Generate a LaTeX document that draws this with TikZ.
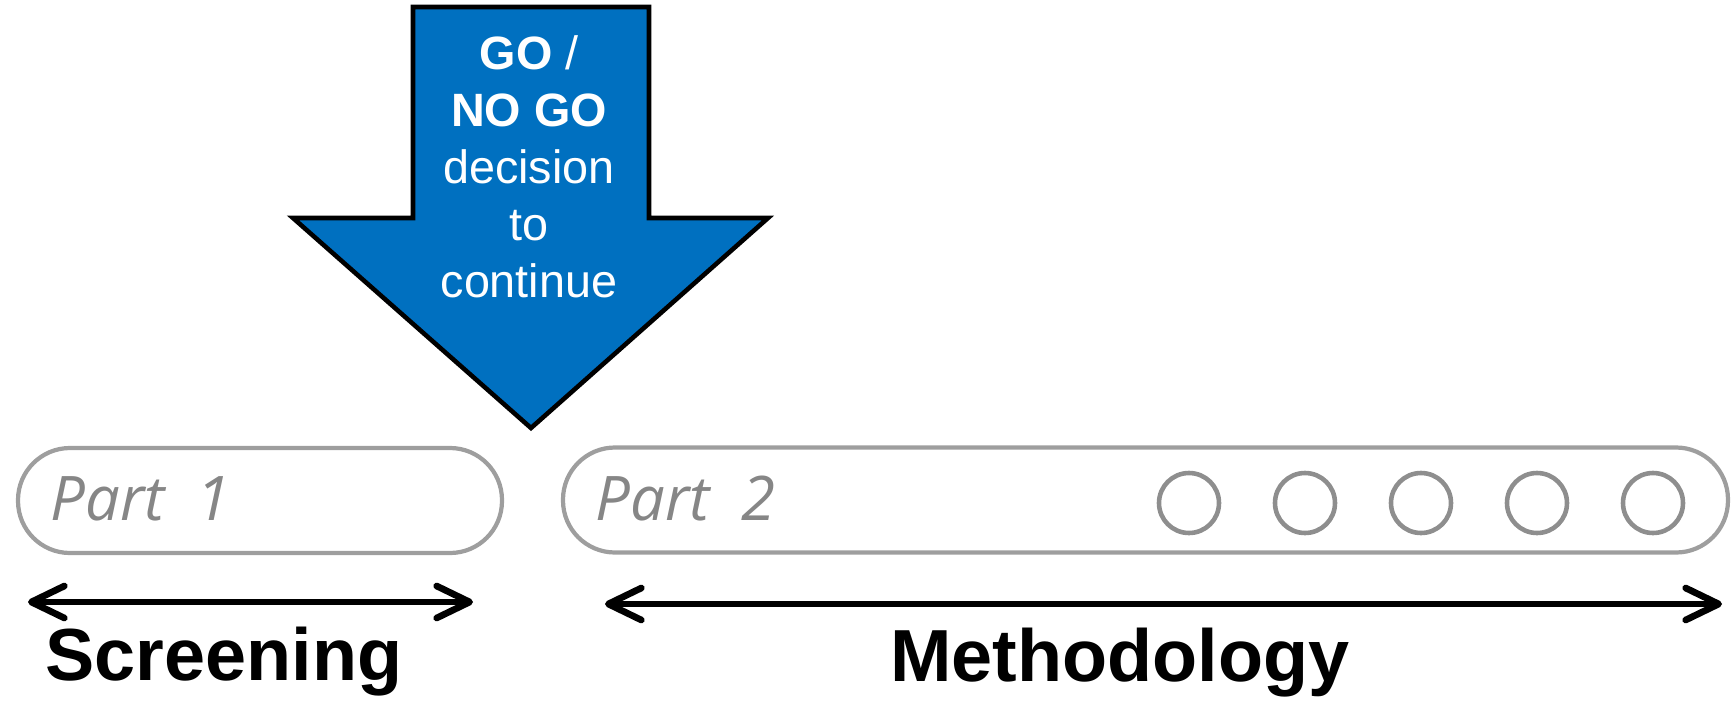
\documentclass[tikz,border=0pt]{standalone}
\usepackage{fontspec}
\setmainfont{Liberation Sans}
\newfontfamily\partfont{Open Sans}
\usetikzlibrary{arrows.meta}
\tikzset{
  part-box/.style={
    draw=partgray,
    line width=1.2pt,
    rounded corners=0.52cm,
    inner sep=0pt
  },
  part-label/.style={
    text=partgray!85!black,
    font=\partfont\itshape\fontsize{17.5}{20}\selectfont,
    inner sep=0pt
  },
  step-dot/.style={circle, draw=partgray!90!black, line width=1.3pt, minimum size=0.6cm, inner sep=0pt},
  span/.style={
    line width=1.7pt,
    {Straight Barb[length=3.3mm, width=3.2mm, line width=1.9pt, round]}-{Straight Barb[length=3.3mm, width=3.2mm, line width=1.9pt, round]}
  },
  phase/.style={font=\bfseries\fontsize{21}{24}\selectfont, inner sep=0pt},
  decision/.style={
    fill=goblue,
    draw=black,
    line width=1.3pt,
    line join=miter
  }
}
\definecolor{goblue}{RGB}{0,112,192}
\definecolor{partgray}{RGB}{158,158,158}

\begin{document}
\begin{tikzpicture}
  \useasboundingbox (0,0) rectangle (17.31,-7.01);

  % go / no go arrow
  \draw[decision] (4.13,-0.07) -- (6.49,-0.07) -- (6.49,-2.18) -- (7.68,-2.18)
    -- (5.31,-4.28) -- (2.93,-2.18) -- (4.13,-2.18) -- cycle;
  \node[text=white, align=center, inner sep=0pt,
        font=\fontsize{13.3}{16.2}\selectfont] (decide) at (5.29,-1.67)
    {\textbf{GO} /\\ \textbf{NO GO}\\ decision\\ to\\ continue};

  % the two parts
  \node[part-box, minimum width=4.84cm, minimum height=1.05cm] (part1) at (2.60,-5.005) {};
  \node[part-label, anchor=base west] (part1-text) at (0.50,-5.20) {Part\ \ 1};

  \node[part-box, minimum width=11.65cm, minimum height=1.05cm] (part2) at (11.455,-5.00) {};
  \node[part-label, anchor=base west] (part2-text) at (5.95,-5.20) {Part\ \ 2};

  \foreach \i in {0,...,4} {
    \node[step-dot] (dot-\i) at (11.89+\i*1.16,-5.03) {};
  }

  % spans below
  \coordinate (scr-l) at (0.28,-6.02);
  \coordinate (scr-r) at (4.73,-6.02);
  \coordinate (met-l) at (6.05,-6.04);
  \coordinate (met-r) at (17.22,-6.04);
  \draw[span] (scr-l) -- (scr-r);
  \draw[span] (met-l) -- (met-r);

  \node[phase, anchor=base west] (screening) at (0.45,-6.80) {Screening};
  \node[phase, anchor=base] (methodology) at (11.20,-6.81) {Methodology};
\end{tikzpicture}
\end{document}
